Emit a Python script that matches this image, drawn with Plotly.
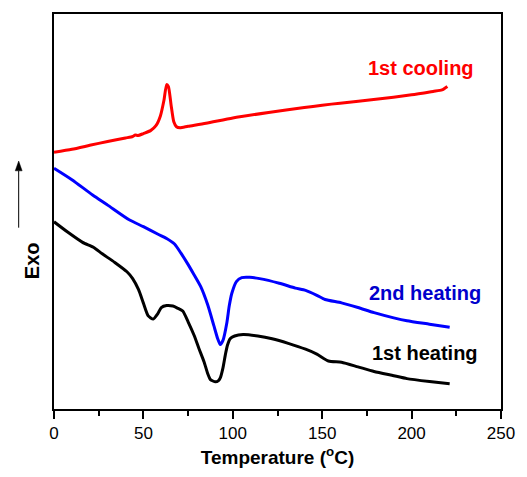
import plotly.graph_objects as go

# 1st cooling (red)
cool_T = [0, 10, 20, 30, 40, 44, 45.5, 47, 50, 54, 57, 59.5, 61.5, 63, 64, 65.5, 67, 68.5, 70.5, 75, 85,
          100, 120, 140, 150, 160, 180, 200, 212, 217, 220]
cool_v = [262, 265, 269, 273, 276.5, 278, 279.5, 279, 281, 284, 289, 299, 315, 331, 329, 310, 293, 288, 287,
          288.5, 291.5, 297, 302.5, 307.5, 310, 312, 316, 320.5, 324, 325.5, 329]

# 2nd heating (blue)
heat2_T = [0, 10, 21.6, 30, 41.8, 50, 58.2, 63, 67.4, 71, 74.7, 78, 82, 86, 89.4, 91.5, 93, 94.5, 96.7, 98,
           99.5, 102, 105, 109.5, 115, 126, 135, 140.7, 147, 151.6, 160.8, 170, 179, 190, 197.4, 210, 221.3]
heat2_v = [245.7, 234, 218.3, 208, 193.3, 186, 178.3, 174, 168.3, 159, 148.3, 138, 125, 106, 85, 72, 65.7,
           70, 88.3, 105, 118.3, 130, 134, 134.3, 133, 128.3, 123.3, 121, 116, 111.7, 108.3, 103.5, 98.3,
           93, 90, 86.5, 83.3]

# 1st heating (black)
heat1_T = [0, 8, 16, 22, 27, 34, 40.8, 44, 47.3, 50, 52.7, 55.5, 58, 60, 63, 66.5, 69, 72, 75, 78.4, 81,
           83.9, 86, 87.5, 90.3, 92, 93, 94.5, 95.8, 97, 98.5, 101, 105.8, 114, 122, 131, 140.7, 147, 153.5,
           160.8, 170, 179, 190, 197.4, 210, 221.3]
heat1_v = [191, 180, 170, 165, 158.3, 149.5, 140, 133, 121.7, 108, 95, 91.7, 97, 103.5, 105.5, 105, 103, 100,
           89, 75, 62, 48.3, 36, 30, 27.7, 29, 31.7, 42, 55, 65, 71.7, 74.5, 76, 74.5, 71.7, 67, 61, 56, 49,
           47.7, 43, 38.3, 34, 31, 28, 25.7]

labels = ["1st cooling", "2nd heating", "1st heating"]
label_T = [205.5, 207.7, 207.4]
label_v = [348, 118, 57]
colors = ["#ff0000", "#0000ff", "#000000"]
label_colors = ["#ff0000", "#0000cc", "#000000"]

x_ticks = [0, 50, 100, 150, 200, 250]

font_fam = "Arial, Liberation Sans, sans-serif"

fig = go.Figure()
for T, v, c in [(cool_T, cool_v, colors[0]), (heat2_T, heat2_v, colors[1]), (heat1_T, heat1_v, colors[2])]:
    fig.add_trace(go.Scatter(x=T, y=v, mode="lines", line=dict(color=c, width=3, shape="spline", smoothing=0.6),
                             showlegend=False, hoverinfo="skip"))

for t, x, y, c in zip(labels, label_T, label_v, label_colors):
    fig.add_annotation(x=x, y=y, text="<b>%s</b>" % t, showarrow=False,
                       font=dict(family=font_fam, size=20, color=c), xanchor="center", yanchor="middle")

# Exo label
fig.add_annotation(xref="paper", yref="paper", x=-0.079, y=(415 - 263.5) / 403, text="<b>Exo</b>",
                   textangle=-90, showarrow=False, font=dict(family=font_fam, size=20, color="black"))
# arrow drawn as shapes (paper coords)
ax_x = -0.079
y_tail = (415 - 230) / 403
y_head = (415 - 162) / 403
y_base = (415 - 172) / 403
fig.add_shape(type="line", xref="paper", yref="paper", x0=ax_x, x1=ax_x, y0=y_tail, y1=y_base,
              line=dict(color="black", width=1))
dx = 3.5 / 455
fig.add_shape(type="path", xref="paper", yref="paper",
              path="M %f %f L %f %f L %f %f Z" % (ax_x - dx, y_base, ax_x, y_head, ax_x + dx, y_base),
              fillcolor="black", line=dict(color="black", width=0.5))

fig.update_layout(
    autosize=True,
    margin=dict(l=54, r=18, t=12, b=62),
    plot_bgcolor="white", paper_bgcolor="white",
    xaxis=dict(range=[0, 250], tickvals=x_ticks, ticks="outside", ticklen=8, tickwidth=2, tickcolor="black",
               showline=True, linewidth=2, linecolor="black", mirror=True, showgrid=False, zeroline=False,
               tickfont=dict(family=font_fam, size=17, color="black"),
               minor=dict(ticks="outside", dtick=25, tick0=0, ticklen=5, tickwidth=2, tickcolor="black",
                          showgrid=False),
               title=dict(text="<b>Temperature (<sup>o</sup>C)</b>", font=dict(family=font_fam, size=19, color="black"),
                          standoff=8)),
    yaxis=dict(range=[0, 403], showticklabels=False, ticks="", showline=True, linewidth=2, linecolor="black",
               mirror=True, showgrid=False, zeroline=False),
)

fig.write_html("out.html", config={"displayModeBar": False, "responsive": True},
               default_width="100vw", default_height="100vh",
               post_script="document.body.style.margin='0';document.body.style.padding='0';"
                           "document.body.style.overflow='hidden';"
                           "document.documentElement.style.overflow='hidden';")
